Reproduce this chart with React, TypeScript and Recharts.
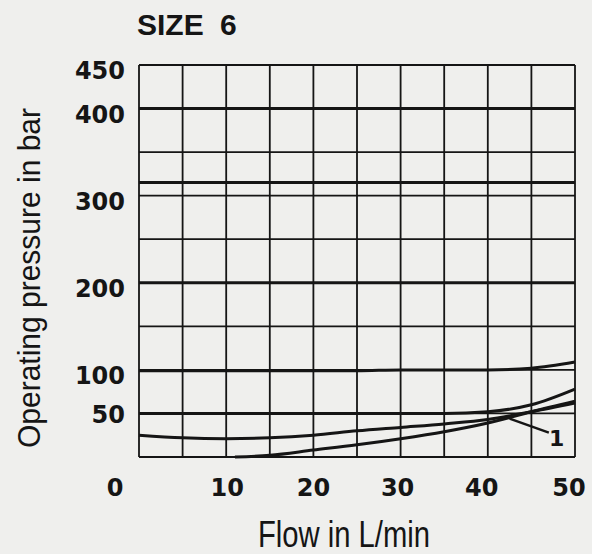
import React from "react";
import {
  LineChart,
  Line,
  XAxis,
  YAxis,
  CartesianGrid,
  ReferenceLine,
  ReferenceDot,
} from "recharts";

// flow in L/min, pressure in bar
const flowTicks = [0, 5, 10, 15, 20, 25, 30, 35, 40, 45, 50];
const pressureTicks = [0, 50, 100, 150, 200, 250, 300, 350, 400, 450];
const labelledPressure = [50, 100, 200, 300, 400, 450];

const flow = [0, 5, 10, 15, 20, 25, 30, 35, 40, 45, 50];
const p400 = [400, 400, 400, 400, 400, 400, 400, 400, 400, 400, 400];
const p315 = [315, 315, 315, 315, 315, 315, 315, 315, 315, 315, 315];
const p200 = [200, 200, 200, 200, 200, 200, 200, 200, 200, 200, 200];
const p100 = [99, 99, 99, 99, 99, 99, 100, 100, 100, 102, 109];
const p50 = [50, 50, 50, 50, 50, 50, 50, 50, 52, 60, 78];
const curveB = [25, 22, 21, 22, 25, 30, 34, 38, 43, 52, 62];

const flowC = [11, 15, 20, 25, 30, 35, 40, 45, 50];
const curveC = [0, 2, 8, 14, 21, 29, 39, 52, 64];

// annotation "1" pointer (data coords)
const pointerFrom = { x: 42.5, y: 44 };
const pointerTo = { x: 47, y: 28 };
const pointerLabel = { x: 47.9, y: 22, text: "1" };

const toRows = (xs: number[], ys: number[]) =>
  xs.map((x, i) => ({ flow: x, p: ys[i] }));

const series = [
  toRows(flow, p400),
  toRows(flow, p315),
  toRows(flow, p200),
  toRows(flow, p100),
  toRows(flow, p50),
  toRows(flow, curveB),
  toRows(flowC, curveC),
];

const INK = "#151515";
const tickFont = "'DejaVu Sans', sans-serif";

const XTick = (props: any) => {
  const { x, y, payload } = props;
  const v = payload.value;
  if (v % 10 !== 0) return null;
  const shift: Record<number, number> = { 0: -24, 10: 1, 20: 0, 30: -3, 40: -6, 50: -6 };
  return (
    <text
      x={x + (shift[v] ?? 0)}
      y={y}
      dy={31}
      textAnchor="middle"
      fontFamily={tickFont}
      fontWeight="bold"
      fontSize={24}
      fill={INK}
    >
      {v}
    </text>
  );
};

const YTick = (props: any) => {
  const { x, y, payload } = props;
  const v = payload.value;
  if (!labelledPressure.includes(v)) return null;
  return (
    <text
      x={x}
      y={y}
      dx={-6}
      dy={v === 50 ? 10 : 14}
      textAnchor="end"
      fontFamily={tickFont}
      fontWeight="bold"
      fontSize={24}
      fill={INK}
    >
      {v}
    </text>
  );
};

export default function App() {
  return (
    <div
      style={{
        position: "fixed",
        left: 0,
        top: 0,
        width: 592,
        height: 554,
        background: "#efefed",
      }}
    >
      <LineChart
        width={592}
        height={554}
        margin={{ top: 65, right: 17, bottom: 0, left: 0 }}
      >
        <CartesianGrid stroke={INK} strokeWidth={1.8} />
        <XAxis
          type="number"
          dataKey="flow"
          domain={[0, 50]}
          ticks={flowTicks}
          interval={0}
          height={97}
          axisLine={false}
          tickLine={false}
          tick={<XTick />}
        />
        <YAxis
          type="number"
          dataKey="p"
          domain={[0, 450]}
          ticks={pressureTicks}
          interval={0}
          width={139}
          axisLine={false}
          tickLine={false}
          tick={<YTick />}
        />
        {series.map((d, i) => (
          <Line
            key={i}
            data={d}
            dataKey="p"
            type="monotone"
            stroke={INK}
            strokeWidth={3}
            dot={false}
            isAnimationActive={false}
          />
        ))}
        <ReferenceLine
          segment={[pointerFrom, pointerTo]}
          stroke={INK}
          strokeWidth={2.5}
        />
        <ReferenceDot
          x={pointerLabel.x}
          y={pointerLabel.y}
          r={0}
          stroke="none"
          label={{
            value: pointerLabel.text,
            position: "center",
            fontFamily: tickFont,
            fontWeight: "bold",
            fontSize: 22,
            fill: INK,
          }}
        />
      </LineChart>
      <svg
        width={592}
        height={554}
        style={{ position: "absolute", left: 0, top: 0, pointerEvents: "none" }}
      >
        <text
          x={137}
          y={35}
          fontFamily="'Liberation Sans', Arial, sans-serif"
          fontWeight="bold"
          fontSize={30}
          wordSpacing={8}
          fill={INK}
        >
          SIZE 6
        </text>
        <text
          x={344}
          y={547}
          textAnchor="middle"
          fontFamily="'Liberation Sans', Arial, sans-serif"
          fontSize={36}
          textLength={172}
          lengthAdjust="spacingAndGlyphs"
          fill={INK}
        >
          Flow in L/min
        </text>
        <text
          transform="translate(40,278) rotate(-90)"
          textAnchor="middle"
          fontFamily="'Liberation Sans', Arial, sans-serif"
          fontSize={32}
          textLength={340}
          lengthAdjust="spacingAndGlyphs"
          fill={INK}
        >
          Operating pressure in bar
        </text>
      </svg>
    </div>
  );
}
